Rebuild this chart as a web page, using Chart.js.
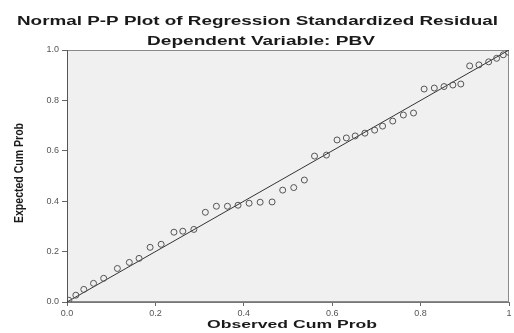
<!DOCTYPE html>
<html>
<head>
<meta charset="utf-8">
<script src="https://cdn.jsdelivr.net/npm/chart.js@4/dist/chart.umd.min.js"></script>
<style>
  html, body { margin: 0; padding: 0; background: #fff; }
  #wrap { width: 514px; height: 333px; }
</style>
</head>
<body>
<div id="wrap"><canvas id="pp"></canvas></div>
<script>
// observed vs expected cumulative probability of standardized residuals
var observedCum = [0.004, 0.020, 0.038, 0.060, 0.083, 0.114, 0.141, 0.163, 0.188, 0.213,
                   0.242, 0.262, 0.287, 0.313, 0.338, 0.363, 0.387, 0.412, 0.437, 0.464,
                   0.488, 0.513, 0.537, 0.560, 0.587, 0.611, 0.632, 0.652, 0.674, 0.696,
                   0.714, 0.737, 0.761, 0.784, 0.808, 0.831, 0.853, 0.873, 0.891, 0.911,
                   0.932, 0.954, 0.972, 0.987, 0.999];
var expectedCum = [0.007, 0.027, 0.050, 0.074, 0.094, 0.133, 0.157, 0.173, 0.217, 0.229,
                   0.277, 0.281, 0.288, 0.356, 0.380, 0.380, 0.384, 0.392, 0.396, 0.397,
                   0.444, 0.454, 0.484, 0.579, 0.583, 0.643, 0.651, 0.659, 0.670, 0.682,
                   0.698, 0.718, 0.742, 0.750, 0.845, 0.849, 0.855, 0.861, 0.865, 0.937,
                   0.941, 0.953, 0.967, 0.981, 0.991];
var refLine = [0, 1];
var tickValues = [0, 0.2, 0.4, 0.6, 0.8, 1];

var titleText = 'Normal P-P Plot of Regression Standardized Residual';
var subtitleText = 'Dependent Variable: PBV';
var xTitle = 'Observed Cum Prob';
var yTitle = 'Expected Cum Prob';

var points = observedCum.map(function (x, i) { return { x: x, y: expectedCum[i] }; });

// draws text squashed/stretched to a given width (the source image is widened)
function stretchText(ctx, text, cx, cy, w, font, rot, sy) {
    ctx.save();
    ctx.font = font;
    ctx.fillStyle = '#1a1a1a';
    ctx.textAlign = 'center';
    ctx.textBaseline = 'middle';
    var mw = ctx.measureText(text).width;
    ctx.translate(cx, cy);
    if (rot) ctx.rotate(rot);
    ctx.scale(w / mw, sy || 1);
    ctx.fillText(text, 0, 0);
    ctx.restore();
}

var frame = {
    id: 'frame',
    beforeDraw: function (chart) {
        var a = chart.chartArea, ctx = chart.ctx;
        ctx.save();
        ctx.fillStyle = '#f0f0f0';
        ctx.fillRect(a.left, a.top, a.right - a.left, a.bottom - a.top);
        ctx.strokeStyle = '#8a8a8a';
        ctx.lineWidth = 1;
        ctx.strokeRect(a.left + 0.5, a.top + 0.5, a.right - a.left - 1, a.bottom - a.top - 1);
        ctx.restore();
    },
    afterDraw: function (chart) {
        var ctx = chart.ctx;
        stretchText(ctx, titleText, 257.5, 22, 481, 'bold 12px Arial');
        stretchText(ctx, subtitleText, 261, 42, 228, 'bold 12px Arial');
        stretchText(ctx, xTitle, 292, 325, 170, 'bold 11px Arial');
        stretchText(ctx, yTitle, 19, 173, 100, 'bold 10px Arial', -Math.PI / 2, 1.35);
    }
};

new Chart(document.getElementById('pp'), {
    type: 'scatter',
    data: {
        datasets: [{
            data: points,
            pointStyle: 'circle',
            pointRadius: 3,
            pointBorderWidth: 1,
            borderColor: '#555',
            backgroundColor: 'rgba(0,0,0,0)',
            order: 1
        }, {
            data: refLine.map(function (v) { return { x: v, y: v }; }),
            showLine: true,
            pointRadius: 0,
            borderColor: '#333',
            borderWidth: 1,
            order: 2
        }]
    },
    plugins: [frame],
    options: {
        responsive: true,
        maintainAspectRatio: false,
        animation: false,
        layout: { padding: { top: 50, right: 1, left: 0, bottom: 0 } },
        plugins: {
            legend: { display: false },
            tooltip: { enabled: false }
        },
        scales: {
            x: {
                type: 'linear', min: 0, max: 1,
                afterBuildTicks: function (s) { s.ticks = tickValues.map(function (v) { return { value: v }; }); },
                afterFit: function (s) { s.height = 31; s.paddingLeft = 0; s.paddingRight = 0; },
                grid: { drawOnChartArea: false, color: '#666', tickLength: 4 },
                border: { color: '#777' },
                ticks: {
                    padding: 2, color: '#555', maxRotation: 0,
                    font: { family: 'Arial', size: 9 },
                    callback: function (v) { return v === 1 ? '1' : v.toFixed(1); }
                }
            },
            y: {
                type: 'linear', min: 0, max: 1,
                afterBuildTicks: function (s) { s.ticks = tickValues.map(function (v) { return { value: v }; }); },
                afterFit: function (s) { s.width = 67; s.paddingTop = 0; s.paddingBottom = 0; },
                grid: { drawOnChartArea: false, color: '#666', tickLength: 5 },
                border: { color: '#555' },
                ticks: {
                    padding: 3, color: '#555',
                    font: { family: 'Arial', size: 9 },
                    callback: function (v) { return v.toFixed(1); }
                }
            }
        }
    }
});
</script>
</body>
</html>
